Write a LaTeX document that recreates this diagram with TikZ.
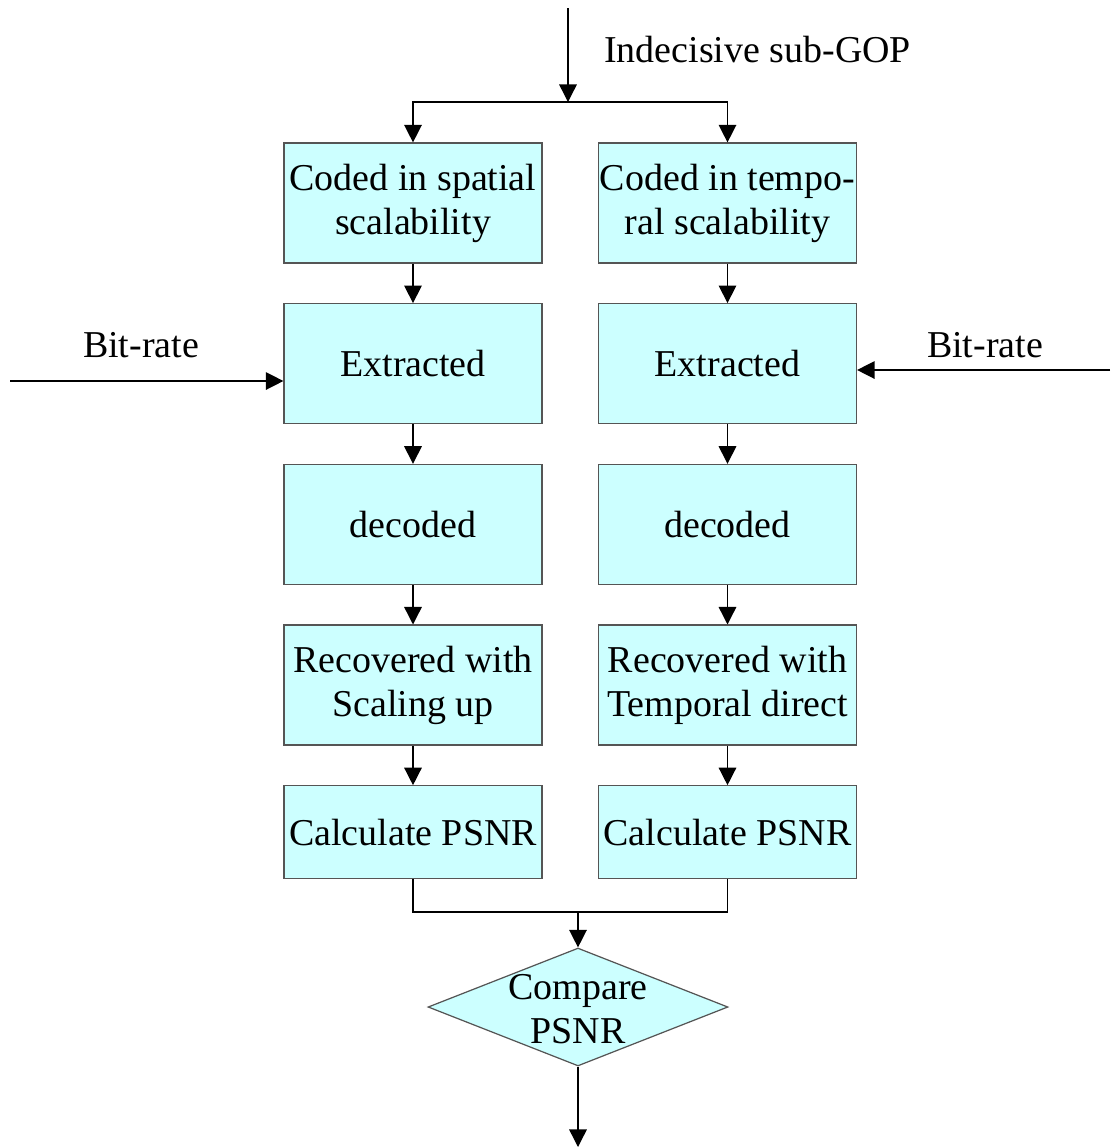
\documentclass[tikz,border=0pt]{standalone}
\usepackage{fontspec}
\setmainfont{Liberation Serif}
\usetikzlibrary{positioning,shapes.geometric,arrows.meta}
\definecolor{boxcyan}{HTML}{CCFFFF}
\definecolor{boxedge}{HTML}{555555}
\tikzset{
  stepbox/.style={draw=boxedge, fill=boxcyan, line width=0.7pt, minimum width=5.16cm, minimum height=2.4cm, align=center, inner sep=0pt},
  psnrbox/.style={stepbox, minimum height=1.86cm},
  flow/.style={line width=0.8pt, -{Triangle[width=10pt,length=10pt]}},
  wire/.style={line width=0.8pt},
}

\begin{document}
\begin{tikzpicture}[x=0.02cm,y=-0.02cm,font=\fontsize{21.6}{25}\selectfont,node distance=0.79cm]
    \useasboundingbox (0,0) rectangle (1110,1147);

    % left column: spatial
    \node[stepbox] (sp1) at (413,203) {Coded in spatial\\scalability};
    \node[stepbox, below=of sp1] (sp2) {Extracted};
    \node[stepbox, below=of sp2] (sp3) {decoded};
    \node[stepbox, below=of sp3] (sp4) {Recovered with\\Scaling up};
    \node[psnrbox, below=of sp4] (sp5) {Calculate PSNR};

    % right column: temporal
    \node[stepbox] (tp1) at (727.5,203) {Coded in tempo-\\ral scalability};
    \node[stepbox, below=of tp1] (tp2) {Extracted};
    \node[stepbox, below=of tp2] (tp3) {decoded};
    \node[stepbox, below=of tp3] (tp4) {Recovered with\\Temporal direct};
    \node[psnrbox, below=of tp4] (tp5) {Calculate PSNR};

    \node[diamond, draw=boxedge, fill=boxcyan, line width=0.7pt, minimum width=6cm, minimum height=2.36cm, inner sep=0pt] (cmp) at (578,1007) {};
    \node[align=center] (cmptext) at ([yshift=-0.04cm]cmp.center) {Compare\\PSNR};

    \node[anchor=west] (gop) at (598,50) {Indecisive sub-GOP};
    \node (brl) at (141,345) {Bit-rate};
    \node (brr) at (985,345) {Bit-rate};

    \coordinate (in) at (568,8);
    \coordinate (split) at (568,102);
    \coordinate (merge) at (578,912);
    \coordinate (out) at (578,1147);
    \coordinate (rl) at (10,381);
    \coordinate (rr) at (1110,370);

    \draw[flow] (in) -- (split);
    \draw[flow] (split) -| (sp1.north);
    \draw[flow] (split) -| (tp1.north);

    \foreach \a/\b in {1/2,2/3,3/4,4/5} {
      \draw[flow] (sp\a) -- (sp\b);
      \draw[flow] (tp\a) -- (tp\b);
    }

    \draw[flow] (rl) -- (rl -| sp2.west);
    \draw[flow] (rr) -- (rr -| tp2.east);

    \draw[wire] (sp5.south) |- (merge);
    \draw[wire] (tp5.south) |- (merge);
    \draw[flow] (merge) -- (cmp.north);
    \draw[flow] (cmp.south) -- (out);
\end{tikzpicture}
\end{document}
